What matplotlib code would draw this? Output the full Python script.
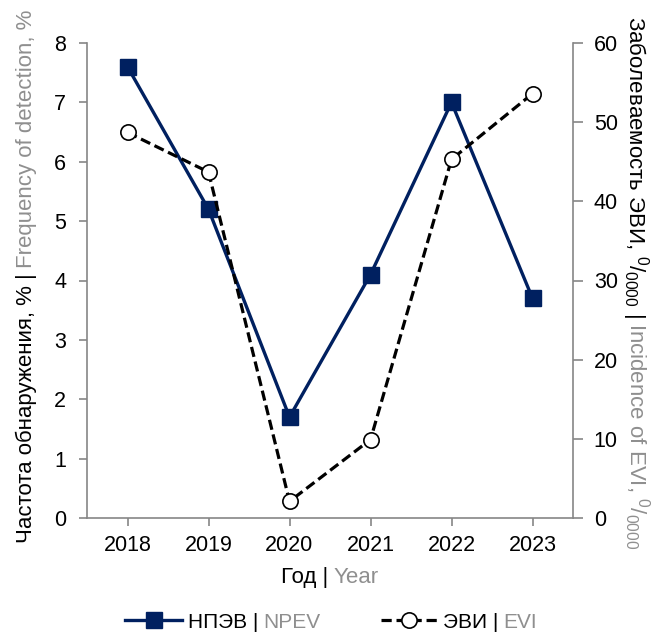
import matplotlib
matplotlib.use('Agg')
import matplotlib.pyplot as plt

plt.rcParams['font.family'] = ['Liberation Sans', 'DejaVu Sans']
plt.rcParams['mathtext.fontset'] = 'custom'
plt.rcParams['mathtext.rm'] = 'Liberation Sans'
plt.rcParams['mathtext.it'] = 'Liberation Sans:italic'
plt.rcParams['mathtext.bf'] = 'Liberation Sans:bold'

# data
years = [2018, 2019, 2020, 2021, 2022, 2023]
npev = [7.6, 5.2, 1.7, 4.1, 7.0, 3.7]          # frequency of detection, %
evi = [48.7, 43.7, 2.1, 9.9, 45.3, 53.6]       # incidence of EVI, per 10 000

W, H = 657, 636
FS_TICK = 15.5
FS_LABEL = 16
FS_LEG = 15
NAVY = '#002060'
GRAY = '#8f8f8f'
SPINE = '#868686'

fig = plt.figure(figsize=(W / 100, H / 100), dpi=100)
ax = fig.add_axes([87 / W, 1 - 518 / H, (573 - 87) / W, (518 - 43) / H])
ax2 = ax.twinx()

h1, = ax.plot(years, npev, color=NAVY, lw=2.4, marker='s', ms=11,
              mfc=NAVY, mec=NAVY, label='НПЭВ |')
h2, = ax2.plot(years, evi, color='black', lw=2.3, ls=(0, (3.2, 1.5)),
               dash_capstyle='butt', marker='o', ms=11, mfc='white',
               mec='black', mew=1.2, label='ЭВИ |')

ax.set_xlim(2017.5, 2023.5)
ax.set_xticks(years)
ax.set_ylim(0, 8)
ax.set_yticks(range(0, 9))
ax2.set_ylim(0, 60)
ax2.set_yticks(range(0, 61, 10))

for a in (ax, ax2):
    a.spines['top'].set_visible(False)
    for s in a.spines.values():
        s.set_color(SPINE)
        s.set_linewidth(1.2)
ax.spines['right'].set_visible(False)
ax2.spines['left'].set_visible(False)
ax2.spines['bottom'].set_visible(False)

ax.tick_params(axis='y', direction='out', length=6, width=1.2, color=SPINE,
               pad=9, labelsize=FS_TICK)
ax.tick_params(axis='x', direction='out', length=6, width=1.2, color=SPINE,
               pad=6, labelsize=FS_TICK)
ax2.tick_params(axis='y', direction='out', length=7, width=1.2, color=SPINE,
                pad=8, labelsize=FS_TICK)

leg = fig.legend([h1, h2], ['НПЭВ |', 'ЭВИ |'], loc='center left',
                 bbox_to_anchor=(125 / W, 1 - 622 / H), ncol=2, frameon=False,
                 fontsize=FS_LEG, handlelength=2.75, handletextpad=0.25,
                 columnspacing=5.9, borderpad=0, borderaxespad=0)

fig.canvas.draw()
renderer = fig.canvas.get_renderer()


def two_tone(cx, cy, black, gray, rot, gap=5):
    # cx, cy: centre along the text and baseline position, pixels from top-left
    kw = dict(fontsize=FS_LABEL, rotation=rot, rotation_mode='anchor',
              ha='left', va='baseline')
    t1 = fig.text(0, 0, black, color='black', **kw)
    t2 = fig.text(0, 0, gray, color=GRAY, **kw)
    b1 = t1.get_window_extent(renderer)
    b2 = t2.get_window_extent(renderer)
    if rot == 0:
        d = (1, 0)
        w1, w2 = b1.width, b2.width
    elif rot == 90:
        d = (0, 1)
        w1, w2 = b1.height, b2.height
    else:
        d = (0, -1)
        w1, w2 = b1.height, b2.height
    total = w1 + gap + w2
    dx, dy = cx, H - cy
    sx = dx - d[0] * total / 2
    sy = dy - d[1] * total / 2
    t1.set_position((sx / W, sy / H))
    t2.set_position(((sx + d[0] * (w1 + gap)) / W, (sy + d[1] * (w1 + gap)) / H))


two_tone(330, 583, 'Год |', 'Year', 0)
two_tone(32, 276, 'Частота обнаружения, % |', 'Frequency of detection, %', 90)
two_tone(629, 283, r'Заболеваемость ЭВИ, $\mathregular{^{0}/_{0000}}$ |',
         r'Incidence of EVI, $\mathregular{^{0}/_{0000}}$', 270)

# grey halves of the legend labels
for txt, gray in zip(leg.get_texts(), ['NPEV', 'EVI']):
    bb = txt.get_window_extent(renderer)
    fig.text((bb.x1 + 5) / W, bb.y0 / H, gray, color=GRAY, fontsize=FS_LEG,
             ha='left', va='bottom')

fig.savefig('out.png', dpi=100)
